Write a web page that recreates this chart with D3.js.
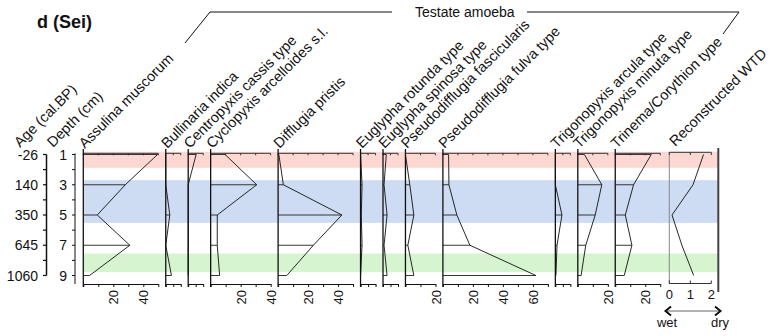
<!DOCTYPE html>
<html>
<head>
<meta charset="utf-8">
<script src="https://cdn.jsdelivr.net/npm/d3@7"></script>
<style>
body { margin: 0; background: #fff; }
text { font-family: "Liberation Sans", Arial, sans-serif; fill: #111; }
</style>
</head>
<body>
<div id="chart"></div>
<script>

// data
var depths = [1, 3, 5, 7, 9];
var ages = [-26, 140, 350, 645, 1060];

var taxa = ['Assulina muscorum', 'Bullinaria indica', 'Centropyxis cassis type',
    'Cyclopyxis arcelloides s.l.', 'Difflugia pristis', 'Euglypha rotunda type',
    'Euglypha spinosa type', 'Pseudodifflugia fascicularis', 'Pseudodifflugia fulva type',
    'Trigonopyxis arcula type', 'Trigonopyxis minuta type', 'Trinema/Corythion type'];

var assulina = [49.5, 28, 9.3, 31, 4.2];
var bullinaria = [0, 0, 2.7, 0, 3.8];
var centropyxis = [5.3, 0, 0, 0, 0];
var cyclopyxis = [9.6, 30.7, 4.4, 4.4, 6];
var difflugia = [0.5, 3.5, 42.5, 23.5, 5.8];
var euglyphaRot = [0, 1, 0.5, 1, 0];
var euglyphaSpin = [2.2, 0.7, 2.7, 0.7, 2.7];
var pseudoFasc = [0, 2.9, 5.6, 1.6, 5.6];
var pseudoFulva = [3.8, 4, 9.3, 18, 62];
var trigArcula = [0, 0, 4.4, 1.1, 0.4];
var trigMinuta = [4.4, 16, 11.6, 5.3, 2.2];
var trinema = [24, 12.2, 6.7, 11.1, 6];

var series = [assulina, bullinaria, centropyxis, cyclopyxis, difflugia, euglyphaRot,
    euglyphaSpin, pseudoFasc, pseudoFulva, trigArcula, trigMinuta, trinema];

var maxima = [50, 10, 10, 40, 50, 10, 10, 20, 70, 10, 20, 30];
var tickSteps = [10, 5, 5, 10, 10, 5, 5, 10, 10, 5, 10, 10];
var tickLabels = [[20, 40], [], [], [20, 40], [20, 40], [], [], [20], [20, 40, 60], [], [20], [20]];

var wtd = [1.63, 1.13, 0.13, 0.6, 1.16];
var wtdTicks = [0, 1, 2];

// zones (depth, cm)
var zoneTop = [0.82, 2.7, 7.55];
var zoneBottom = [1.88, 5.52, 8.78];
var zoneColors = ['#fdd8d3', '#cddcf2', '#d5f4cf'];

var attrs = {
    svgWidth: 771,
    svgHeight: 336,
    plotTop: 153.3,
    plotBottom: 284,
    firstX: 83.3,
    pxPerPct: 1.5,
    gap: 7.45,
    wtdX: 669.3,
    wtdWidth: 42,
    rightEdge: 718.3,
    labelSize: 14.5
};

var svg = d3.select('#chart').append('svg')
    .attr('width', attrs.svgWidth)
    .attr('height', attrs.svgHeight);

var y = d3.scaleLinear().domain([1, 9]).range([154.5, 275.5]);

// ---------- zone bands ----------
svg.selectAll('rect.zone')
    .data(zoneTop)
    .enter()
    .append('rect')
    .attr('class', 'zone')
    .attr('x', attrs.firstX)
    .attr('width', attrs.rightEdge - attrs.firstX)
    .attr('y', d => y(d))
    .attr('height', (d, i) => y(zoneBottom[i]) - y(d))
    .attr('fill', (d, i) => zoneColors[i]);

// ---------- title + header ----------
svg.append('text')
    .attr('x', 37).attr('y', 28)
    .attr('font-size', 18).attr('font-weight', 'bold')
    .text('d (Sei)');

svg.append('path')
    .attr('d', 'M185,43L210,12L392,12')
    .attr('fill', 'none').attr('stroke', '#111').attr('stroke-width', 1);
svg.append('path')
    .attr('d', 'M527,12L739,12L723,34')
    .attr('fill', 'none').attr('stroke', '#111').attr('stroke-width', 1);
svg.append('text')
    .attr('x', 415).attr('y', 17)
    .attr('font-size', 14)
    .text('Testate amoeba');

// ---------- age + depth axes ----------
var allDepths = d3.range(1, 10);

svg.append('line')
    .attr('x1', 75).attr('x2', 75)
    .attr('y1', attrs.plotTop).attr('y2', attrs.plotBottom)
    .attr('stroke', '#111');
svg.selectAll('line.dtick')
    .data(allDepths).enter().append('line')
    .attr('class', 'dtick')
    .attr('x1', 72).attr('x2', 75)
    .attr('y1', d => y(d)).attr('y2', d => y(d))
    .attr('stroke', '#111');
svg.selectAll('text.dlab')
    .data(depths).enter().append('text')
    .attr('class', 'dlab')
    .attr('x', 67).attr('y', d => y(d))
    .attr('dy', '0.36em')
    .attr('text-anchor', 'end')
    .attr('font-size', 14)
    .text(d => d);

svg.append('line')
    .attr('x1', 46.5).attr('x2', 46.5)
    .attr('y1', y(1)).attr('y2', y(9))
    .attr('stroke', '#111').attr('stroke-width', 1.5);
svg.selectAll('line.atick')
    .data(allDepths).enter().append('line')
    .attr('class', 'atick')
    .attr('x1', 43).attr('x2', 46.5)
    .attr('y1', d => y(d)).attr('y2', d => y(d))
    .attr('stroke', '#111').attr('stroke-width', 1.2);
svg.selectAll('text.alab')
    .data(ages).enter().append('text')
    .attr('class', 'alab')
    .attr('x', 38).attr('y', (d, i) => y(depths[i]))
    .attr('dy', '0.36em')
    .attr('text-anchor', 'end')
    .attr('font-size', 14)
    .text(d => d);

svg.append('text')
    .attr('transform', 'translate(20,148) rotate(-45)')
    .attr('font-size', attrs.labelSize)
    .text('Age (cal.BP)');
svg.append('text')
    .attr('transform', 'translate(53,148) rotate(-45)')
    .attr('font-size', attrs.labelSize)
    .text('Depth (cm)');

// ---------- taxa panels ----------
var cx = attrs.firstX;
series.forEach(function (values, i) {
    var max = maxima[i];
    var sc = d3.scaleLinear().domain([0, max]).range([cx, cx + max * attrs.pxPerPct]);
    cx += max * attrs.pxPerPct + attrs.gap;

    var g = svg.append('g');
    var ticks = d3.range(0, max + 0.001, tickSteps[i]);

    // bars
    g.selectAll('line.bar')
        .data(values).enter().append('line')
        .attr('x1', sc(0)).attr('x2', d => sc(d))
        .attr('y1', (d, j) => y(depths[j])).attr('y2', (d, j) => y(depths[j]))
        .attr('stroke', '#222').attr('stroke-width', 0.9);

    // profile
    g.append('path')
        .datum(values)
        .attr('d', d3.line().x(d => sc(d)).y((d, j) => y(depths[j])))
        .attr('fill', 'none')
        .attr('stroke', '#111')
        .attr('stroke-width', 0.9);

    // top axis
    g.append('line')
        .attr('x1', sc(0)).attr('x2', sc(max))
        .attr('y1', attrs.plotTop).attr('y2', attrs.plotTop)
        .attr('stroke', '#333');
    g.selectAll('line.ttick')
        .data(ticks).enter().append('line')
        .attr('x1', d => sc(d)).attr('x2', d => sc(d))
        .attr('y1', attrs.plotTop).attr('y2', attrs.plotTop + 2)
        .attr('stroke', '#333');

    // bottom axis
    var axis = d3.axisBottom(sc)
        .tickValues(ticks)
        .tickSize(3)
        .tickSizeOuter(0)
        .tickFormat(d => tickLabels[i].indexOf(d) >= 0 ? d : '');
    var ag = g.append('g')
        .attr('transform', 'translate(0,' + attrs.plotBottom + ')')
        .call(axis);
    ag.select('.domain').attr('stroke', '#111');
    ag.selectAll('.tick line').attr('stroke', '#111');
    ag.selectAll('.tick text')
        .attr('transform', 'rotate(-90)')
        .attr('x', -6).attr('y', 0).attr('dy', '0.36em')
        .attr('text-anchor', 'end')
        .attr('font-size', 13)
        .attr('font-family', '"Liberation Sans", Arial, sans-serif')
        .attr('fill', '#111');

    // vertical axis
    g.append('line')
        .attr('x1', sc(0)).attr('x2', sc(0))
        .attr('y1', 149).attr('y2', 287)
        .attr('stroke', '#111').attr('stroke-width', 1.3);

    // name
    svg.append('text')
        .attr('transform', 'translate(' + (sc(0) + 1.5) + ',149) rotate(-45)')
        .attr('font-size', attrs.labelSize)
        .text(taxa[i]);
});

// ---------- reconstructed WTD ----------
var xw = d3.scaleLinear().domain([0, 2]).range([attrs.wtdX, attrs.wtdX + attrs.wtdWidth]);
var wg = svg.append('g');

wg.append('line')
    .attr('x1', xw(0)).attr('x2', xw(0))
    .attr('y1', 152).attr('y2', 283.5)
    .attr('stroke', '#888');
wg.append('line')
    .attr('x1', xw(0)).attr('x2', xw(2))
    .attr('y1', 152.3).attr('y2', 152.3)
    .attr('stroke', '#333');
wg.selectAll('line.wt')
    .data(wtdTicks).enter().append('line')
    .attr('x1', d => xw(d)).attr('x2', d => xw(d))
    .attr('y1', 152.3).attr('y2', 155)
    .attr('stroke', '#333');
wg.append('line')
    .attr('x1', xw(0)).attr('x2', xw(2))
    .attr('y1', 283.5).attr('y2', 283.5)
    .attr('stroke', '#333');
wg.selectAll('line.wb')
    .data(wtdTicks).enter().append('line')
    .attr('x1', d => xw(d)).attr('x2', d => xw(d))
    .attr('y1', 280.5).attr('y2', 283.5)
    .attr('stroke', '#333');
wg.selectAll('text.wl')
    .data(wtdTicks).enter().append('text')
    .attr('x', d => xw(d)).attr('y', 299)
    .attr('text-anchor', 'middle')
    .attr('font-size', 13)
    .text(d => d);

wg.append('path')
    .datum(wtd)
    .attr('d', d3.line().x(d => xw(d)).y((d, j) => y(depths[j])))
    .attr('fill', 'none')
    .attr('stroke', '#111')
    .attr('stroke-width', 0.9);

wg.append('text')
    .attr('transform', 'translate(' + (xw(0) + 6) + ',147) rotate(-45)')
    .attr('font-size', attrs.labelSize)
    .text('Reconstructed WTD');

// right edge
svg.append('line')
    .attr('x1', attrs.rightEdge).attr('x2', attrs.rightEdge)
    .attr('y1', 148).attr('y2', 292)
    .attr('stroke', '#444').attr('stroke-width', 2);

// wet / dry arrow
svg.append('line')
    .attr('x1', 666).attr('x2', 720)
    .attr('y1', 311).attr('y2', 311)
    .attr('stroke', '#999').attr('stroke-width', 1.5);
svg.append('path')
    .attr('d', 'M671,306.5L665.5,311L671,315.5M715,306.5L720.5,311L715,315.5')
    .attr('fill', 'none').attr('stroke', '#111').attr('stroke-width', 2);
svg.append('text')
    .attr('x', 667).attr('y', 327)
    .attr('text-anchor', 'middle').attr('font-size', 13)
    .text('wet');
svg.append('text')
    .attr('x', 720).attr('y', 327)
    .attr('text-anchor', 'middle').attr('font-size', 13)
    .text('dry');

</script>
</body>
</html>
